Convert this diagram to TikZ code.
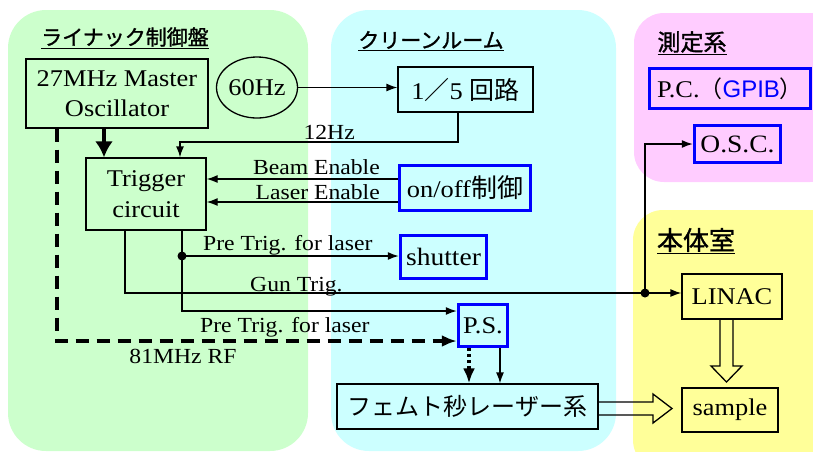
\documentclass[tikz,border=0pt]{standalone}
\usepackage{fontspec}
\setmainfont{Liberation Serif}[FakeStretch=1.1]
\newfontfamily\jp{Noto Sans CJK JP}
\newfontfamily\jpb{Noto Sans CJK JP}[FakeBold=1.2]
\newfontfamily\gsans{Liberation Sans}
\usetikzlibrary{arrows.meta,shapes.geometric}
\definecolor{rgreen}{RGB}{204,255,204}
\definecolor{rcyan}{RGB}{204,255,255}
\definecolor{rpink}{RGB}{255,204,255}
\definecolor{ryellow}{RGB}{255,255,153}
\tikzset{
  box/.style={draw, line width=1.3pt, inner sep=0pt, align=center, font=\fontsize{24}{30}\selectfont},
  bbox/.style={box, draw=blue, line width=3.5pt},
  lbl/.style={inner sep=0pt, font=\fontsize{21.5}{22}\selectfont},
  ttl/.style={inner sep=0pt},
  conn/.style={line width=1.3pt, -{Latex[length=11pt,width=8pt]}},
  dotnode/.style={circle, fill, inner sep=0pt, minimum size=9pt},
  hollow/.style={line width=1.3pt, line join=miter}
}
\begin{document}
\begin{tikzpicture}[x=1pt,y=-1pt]
\useasboundingbox (0,0) rectangle (813,451);
\begin{scope}
\clip (0,0) rectangle (813,451);
\fill[rgreen, rounded corners=38pt] (8,10) rectangle (308,451);
\fill[rcyan, rounded corners=38pt] (331,10) rectangle (616,451);
\fill[rpink, rounded corners=30pt] (634,13) rectangle (840,182);
\fill[ryellow, rounded corners=30pt] (633,210) rectangle (840,470);
\end{scope}

% titles
\node[ttl, font=\jpb\fontsize{21}{24}\selectfont] (t1) at (125,38) {\underline{ライナック制御盤}};
\node[ttl, font=\jpb\fontsize{21}{24}\selectfont] (t2) at (431,41) {\underline{クリーンルーム}};
\node[ttl, font=\jpb\fontsize{23}{26}\selectfont] (t3) at (692,43) {\underline{測定系}};
\node[ttl, font=\jpb\fontsize{26}{28}\selectfont] (t4) at (696,241) {\underline{本体室}};

% boxes
\node[box, minimum width=182pt, minimum height=69pt] (mo) at (117,93.5) {27MHz Master\\Oscillator};
\node[draw, ellipse, line width=1.3pt, inner sep=0pt, minimum width=81pt, minimum height=61pt, font=\fontsize{24}{26}\selectfont] (hz) at (257,87.5) {60Hz};
\node[box, minimum width=135pt, minimum height=45pt] (div) at (465.5,89.5) {1{\jp\fontsize{25}{30}\selectfont ／}5\hspace{7pt}{\jp\fontsize{25}{30}\selectfont 回路}};
\node[box, minimum width=120pt, minimum height=72pt, font=\fontsize{24}{31}\selectfont] (trig) at (146,194) {Trigger\\circuit};
\node[bbox, minimum width=131pt, minimum height=45pt] (onoff) at (465,188) {on/off{\jp\fontsize{26}{30}\selectfont 制御}};
\node[bbox, minimum width=86pt, minimum height=43pt, font=\fontsize{25}{26}\selectfont] (shutter) at (443.5,257) {shutter};
\node[bbox, minimum width=49pt, minimum height=42pt] (ps) at (483,325.5) {P.S.};
\node[box, minimum width=261pt, minimum height=45pt] (laser) at (467.5,406.5) {\jp\fontsize{24}{28}\selectfont フェムト秒レーザー系};
\node[bbox, minimum width=161pt, minimum height=40pt] (pc) at (730,88.5) {P.C.{\jp\fontsize{23}{26}\selectfont （}{\gsans\fontsize{24}{26}\selectfont\color{blue}GPIB}{\jp\fontsize{23}{26}\selectfont ）}};
\node[bbox, minimum width=86pt, minimum height=37pt, font=\fontsize{25}{26}\selectfont] (osc) at (737.5,144) {O.S.C.};
\node[box, minimum width=100pt, minimum height=45pt] (linac) at (732,296.5) {LINAC};
\node[box, minimum width=96pt, minimum height=44pt] (sample) at (730,410) {sample};

% labels
\node[lbl, anchor=east] (l12) at (355,132) {12Hz};
\node[lbl, anchor=east] (lbeam) at (380,167) {Beam Enable};
\node[lbl, anchor=east] (llaser) at (380,192) {Laser Enable};
\node[lbl, anchor=west] (lpre1) at (203,245) {Pre Trig. for laser};
\node[lbl, anchor=west] (lgun) at (250,287) {Gun Trig.};
\node[lbl, anchor=west] (lpre2) at (200,327) {Pre Trig. for laser};
\node[lbl] (lrf) at (183,356) {81MHz RF};

% dots
\node[dotnode] (d1) at (182,256) {};
\node[dotnode] (d2) at (645,293) {};

% connectors
\draw[conn] (hz.east) -- (div.west |- hz.east);
\coordinate (k12) at (180,142);
\draw[conn] (div.south -| 458,0) |- (k12) -- (k12 |- trig.north);
\draw[line width=4pt, -{Latex[length=16pt,width=18pt]}] (mo.south -| 104,0) -- (trig.north -| 104,0);
\draw[conn] (onoff.west |- 0,179) -- (trig.east |- 0,179);
\draw[conn] (onoff.west |- 0,202) -- (trig.east |- 0,202);
\draw[conn] (trig.south -| d1) -- (d1.center) -- (shutter.west |- d1);
\draw[conn] (d1.center) |- (ps.west |- 0,311);
\draw[conn] (trig.south -| 125,0) |- (linac.west |- d2);
\draw[conn] (d2.center) |- (osc.west);
\draw[line width=3.5pt, dash pattern=on 13pt off 8pt, -{Latex[length=15pt,width=12pt]}] (mo.south -| 57,0) |- (ps.west |- 0,341);
\draw[line width=3.5pt, dash pattern=on 3pt off 3pt, -{Latex[length=15pt,width=12pt]}] (ps.south -| 469,0) -- (laser.north -| 469,0);
\draw[conn] (ps.south -| 500,0) -- (laser.north -| 500,0);

% hollow arrows
\draw[hollow] (laser.east |- 0,402) -- (653,402) -- (653,394) -- (672,408.5) -- (653,423) -- (653,415) -- (laser.east |- 0,415);
\draw[hollow] (linac.south -| 720,0) -- (720,366) -- (711,366) -- (726.5,382) -- (742,366) -- (733,366) -- (linac.south -| 733,0);
\end{tikzpicture}
\end{document}
